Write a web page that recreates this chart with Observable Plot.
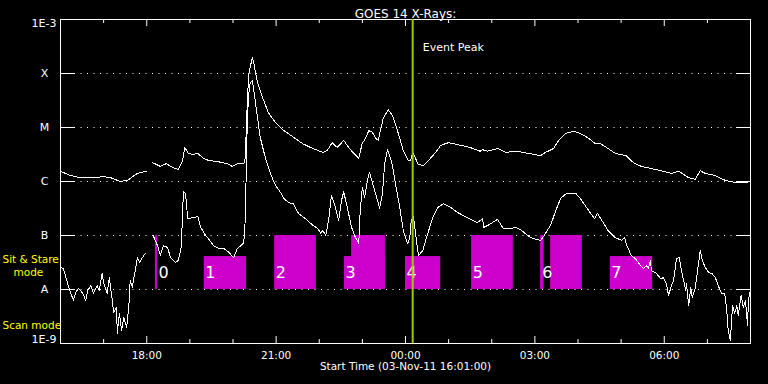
<!DOCTYPE html>
<html>
<head>
<meta charset="utf-8">
<script src="https://cdn.jsdelivr.net/npm/d3@7"></script>
<script src="https://cdn.jsdelivr.net/npm/@observablehq/plot@0.6"></script>
<style>
  html, body { margin: 0; padding: 0; background: #000; }
  #chart { width: 768px; height: 384px; overflow: hidden; }
</style>
</head>
<body>
<div id="chart"></div>
<script>
// ---------------- DATA ----------------
const startTime = "2011-11-03T16:00:00Z";   // left edge of the time axis
const spanHours = 16;
const titleText = "GOES 14 X-Rays:";
const captionText = "Start Time (03-Nov-11 16:01:00)";

// GOES long channel (1-8 A): minutes after 16:00, log10 flux (NaN = data gap)
const longMin = [0,14,28,46,60,70,83,93,107,120,124,128,139,147,156,164,170,173,178,185,191,199,206,218,232,239,246,255,257,260,262,267,269,274,281,289,299,309,323,337,351,365,371,378,385,394,401,408,415,420,423,429,434,438,442,449,456,462,470,477,484,487,490,498,505,512,522,529,540,557,570,584,587,594,609,619,636,651,668,675,686,693,703,714,723,735,744,751,762,772,787,797,808,822,839,850,860,874,883,890,897,911,925,939,954,959];
const longLog = [-5.81,-5.89,-5.93,-5.93,-5.91,-5.93,-6.00,-5.98,-5.85,-5.81,NaN,-5.65,-5.72,-5.67,-5.74,-5.78,-5.61,-5.37,-5.48,-5.50,-5.48,-5.57,-5.61,-5.63,-5.67,-5.72,-5.67,-5.67,-5.56,-4.50,-4.00,-3.70,-3.81,-4.17,-4.44,-4.72,-4.91,-5.04,-5.17,-5.30,-5.39,-5.46,-5.43,-5.28,-5.37,-5.24,-5.37,-5.48,-5.57,-5.28,-5.24,-5.06,-5.09,-5.19,-5.24,-4.83,-4.67,-4.78,-5.11,-5.43,-5.61,-5.61,-5.46,-5.69,-5.70,-5.61,-5.46,-5.33,-5.28,-5.33,-5.37,-5.44,-5.41,-5.44,-5.39,-5.46,-5.44,-5.48,-5.52,-5.46,-5.39,-5.24,-5.11,-5.07,-5.11,-5.20,-5.30,-5.30,-5.39,-5.48,-5.52,-5.65,-5.72,-5.76,-5.81,-5.85,-5.81,-5.93,-5.96,-5.80,-5.85,-5.89,-5.98,-6.02,-6.02,-6.00];

// GOES short channel (0.5-4 A): minutes after 16:00, log10 flux
const shortMin = [0,4,10,14,18,21,25,31,35,38,42,46,51,54,58,60,65,68,72,74,78,79,82,85,88,89,92,95,97,100,102,104,107,110,114,118,124,129,135,139,143,149,153,160,164,168,171,174,177,184,191,195,202,206,213,220,227,234,241,246,250,255,257,260,262,264,267,269,274,278,285,292,299,306,310,317,324,331,341,351,358,362,365,369,373,377,381,387,391,394,399,405,409,415,417,420,423,427,430,435,441,444,448,451,455,461,466,472,477,483,486,488,491,494,498,504,511,518,525,533,543,552,566,580,587,589,595,608,616,626,633,640,650,658,668,673,678,682,689,696,704,717,723,735,743,747,755,762,772,781,785,787,794,800,807,811,815,818,821,822,829,835,839,843,846,850,853,857,861,864,870,871,874,877,879,883,886,890,893,897,902,906,911,916,920,924,927,929,932,935,938,941,943,947,950,953,956,957,959];
const shortLog = [-7.59,-7.61,-7.89,-8.06,-8.20,-8.06,-7.98,-8.07,-8.20,-8.02,-7.93,-8.07,-7.93,-8.02,-7.70,-7.87,-8.07,-7.78,-8.20,-8.43,-8.33,-8.81,-8.44,-8.76,-8.52,-8.57,-8.70,-8.33,-7.83,-7.96,-7.78,-7.65,-7.41,-7.50,-7.41,-7.33,NaN,-7.00,-7.19,-7.37,-7.19,-7.22,-7.41,-7.50,-7.46,-7.22,-6.19,-6.22,-6.69,-6.67,-6.65,-6.85,-7.00,-7.06,-7.19,-7.24,-7.24,-7.31,-7.41,-7.24,-7.20,-7.13,-6.72,-4.81,-4.37,-4.17,-4.13,-4.31,-4.81,-5.19,-5.56,-5.85,-6.07,-6.20,-6.30,-6.39,-6.41,-6.59,-6.69,-6.81,-6.87,-6.96,-6.91,-7.00,-6.72,-6.26,-6.41,-6.72,-6.35,-6.19,-6.48,-6.85,-7.00,-7.15,-6.54,-6.11,-6.30,-5.98,-5.83,-6.07,-6.35,-6.50,-6.22,-5.67,-5.41,-5.65,-6.04,-6.48,-6.91,-7.15,-7.04,-6.72,-6.65,-6.96,-7.37,-7.28,-6.96,-6.67,-6.48,-6.41,-6.48,-6.57,-6.67,-6.76,-6.69,-6.85,-6.81,-6.70,-6.87,-6.87,-6.85,-6.89,-7.00,-7.06,-7.09,-7.00,-6.89,-6.81,-6.54,-6.31,-6.22,-6.22,-6.31,-6.54,-6.69,-6.59,-6.76,-6.91,-7.04,-7.09,-7.04,-7.15,-7.37,-7.43,-7.56,-7.61,-7.56,-7.61,-7.46,-7.65,-7.70,-7.80,-7.78,-7.89,-8.11,-7.93,-7.83,-7.43,-7.41,-7.65,-8.02,-7.89,-8.30,-7.96,-8.15,-7.98,-7.69,-7.28,-7.46,-7.59,-7.69,-7.70,-7.78,-7.96,-8.07,-8.07,-8.39,-8.76,-8.94,-8.30,-8.44,-8.30,-8.48,-8.11,-8.33,-8.20,-8.67,-8.20,-8.06];

// Observation mode blocks (minutes after 16:00; top level in log10 flux, bottom = A level)
const blockStart = [132, 200, 298, 395, 405, 480, 572, 668, 682, 765];
const blockEnd   = [135, 259, 356, 452, 452, 529, 630, 673, 726, 824];
const blockTop   = [-7, -7.39, -7, -7.39, -7, -7.39, -7, -7, -7, -7.39];
const blockBottom = -8;
const blockLabels   = ["0", "1", "2", "3", "4", "5", "6", "7"];
const blockLabelMin = [135, 200, 298, 395, 480, 572, 669, 765];

// Event peak
const eventPeakMin = 490;
const eventPeakText = "Event Peak";

// Y axis: GOES class levels
const levelExp   = [-8, -7, -6, -5, -4];
const levelNames = ["A", "B", "C", "M", "X"];
const edgeExp    = [-9, -3];
const edgeNames  = ["1E-9", "1E-3"];

// Mode annotations
const modeTexts = ["Sit & Stare", "mode", "Scan mode"];
const modeLevel = [-7.5, -7.5, -8.5];

// X axis tick labels
const timeTickLabels = ["18:00", "21:00", "00:00", "03:00", "06:00"];

// ---------------- BUILD ----------------
const t0 = Date.parse(startTime);
const t1 = t0 + spanHours * 3600000;
const toDate = m => new Date(t0 + m * 60000);

const longData = longMin.map((m, i) => ({t: toDate(m), v: longLog[i]}));
const shortData = shortMin.map((m, i) => ({t: toDate(m), v: shortLog[i]}));
const blocks = blockStart.map((s, i) => ({s: toDate(s), e: toDate(blockEnd[i]), top: blockTop[i]}));
const labels = blockLabels.map((l, i) => ({t: toDate(blockLabelMin[i]), label: l}));
const peak = toDate(eventPeakMin);

const majorTicks = timeTickLabels.map(s => {
  const h = +s.slice(0, 2);
  return toDate(((h - 16 + 24) % 24) * 60);
});
const allHours = d3.utcHour.range(new Date(t0 + 1), new Date(t1));
const minorTicks = allHours.filter(d => !majorTicks.some(m => +m === +d));
const fmt = d3.utcFormat("%H:%M");

const W = 768, H = 384, mL = 60, mR = 18, mT = 19, mB = 41;
const pw = W - mL - mR, ph = H - mT - mB;
const font = "DejaVu Sans, sans-serif";

const chart = Plot.plot({
  width: W, height: H,
  marginLeft: mL, marginRight: mR, marginTop: mT, marginBottom: mB,
  style: {background: "#000", color: "#fff", fontFamily: font, fontSize: "11px"},
  x: {type: "utc", domain: [new Date(t0), new Date(t1)], axis: null},
  y: {domain: [-9, -3], axis: null},
  marks: [
    // dotted grid at class levels
    Plot.ruleY(levelExp, {stroke: "#fff", strokeDasharray: "1,5.5", insetLeft: 14, insetRight: 14}),
    // mode blocks
    Plot.rect(blocks, {x1: "s", x2: "e", y1: blockBottom, y2: "top", fill: "#cc00cc"}),
    // flux curves
    Plot.line(longData, {x: "t", y: "v", stroke: "#fff", strokeWidth: 1, shapeRendering: "crispEdges"}),
    Plot.line(shortData, {x: "t", y: "v", stroke: "#fff", strokeWidth: 1, shapeRendering: "crispEdges"}),
    // block labels
    Plot.text(labels, {x: "t", y: () => blockBottom, text: "label", dy: -17, dx: 1, textAnchor: "start", fill: "#fff", fontSize: 16}),
    // frame and ticks
    Plot.frame({stroke: "#fff"}),
    Plot.ruleY(levelExp, {stroke: "#fff", insetRight: pw - 14}),
    Plot.ruleY(levelExp, {stroke: "#fff", insetLeft: pw - 14}),
    Plot.ruleX(minorTicks, {stroke: "#fff", insetTop: ph - 4}),
    Plot.ruleX(minorTicks, {stroke: "#fff", insetBottom: ph - 4}),
    Plot.ruleX(majorTicks, {stroke: "#fff", insetTop: ph - 7}),
    Plot.ruleX(majorTicks, {stroke: "#fff", insetBottom: ph - 7}),
    // y labels
    Plot.axisY(levelExp, {anchor: "left", tickSize: 0, tickPadding: 0, dx: -16, textAnchor: "middle",
      tickFormat: d => levelNames[levelExp.indexOf(d)], fontSize: 11}),
    Plot.axisY([edgeExp[0]], {anchor: "left", tickSize: 0, tickPadding: 4, dy: -4,
      tickFormat: () => edgeNames[0], fontSize: 11}),
    Plot.axisY([edgeExp[1]], {anchor: "left", tickSize: 0, tickPadding: 4, dy: 4,
      tickFormat: () => edgeNames[1], fontSize: 11}),
    // x labels
    Plot.axisX(majorTicks, {anchor: "bottom", tickSize: 0, tickPadding: 8, tickFormat: fmt, fontSize: 10.5}),
    // event peak
    Plot.ruleX([peak], {stroke: "#99cc00", strokeWidth: 2}),
    Plot.text([peak], {x: d => d, frameAnchor: "top", text: () => eventPeakText, dx: 10, dy: 24, textAnchor: "start", fill: "#fff", fontSize: 11}),
    // mode annotations
    Plot.text(modeTexts, {frameAnchor: "left", y: (d, i) => modeLevel[i], text: d => d,
      textAnchor: "start", fill: "#ffff00", fontSize: 10.5}),
    // title and caption
    Plot.text([titleText], {frameAnchor: "top", text: d => d, dy: -10, fill: "#fff", fontSize: 12}),
    Plot.text([captionText], {frameAnchor: "bottom", text: d => d, dy: 26, fill: "#fff", fontSize: 10.5})
  ]
});
document.getElementById("chart").append(chart);

// position the mode annotation lines in the left margin
const modeDx = [-58, -47, -58];
const modeDy = [0, 13, 12];
d3.select(chart).selectAll("text").filter(function() { return modeTexts.includes(this.textContent); })
  .each(function() {
    const i = modeTexts.indexOf(this.textContent);
    const x = +this.getAttribute("x") || 0;
    const y = +this.getAttribute("y") || 0;
    this.setAttribute("x", x + modeDx[i]);
    this.setAttribute("y", y + modeDy[i]);
  });
</script>
</body>
</html>
